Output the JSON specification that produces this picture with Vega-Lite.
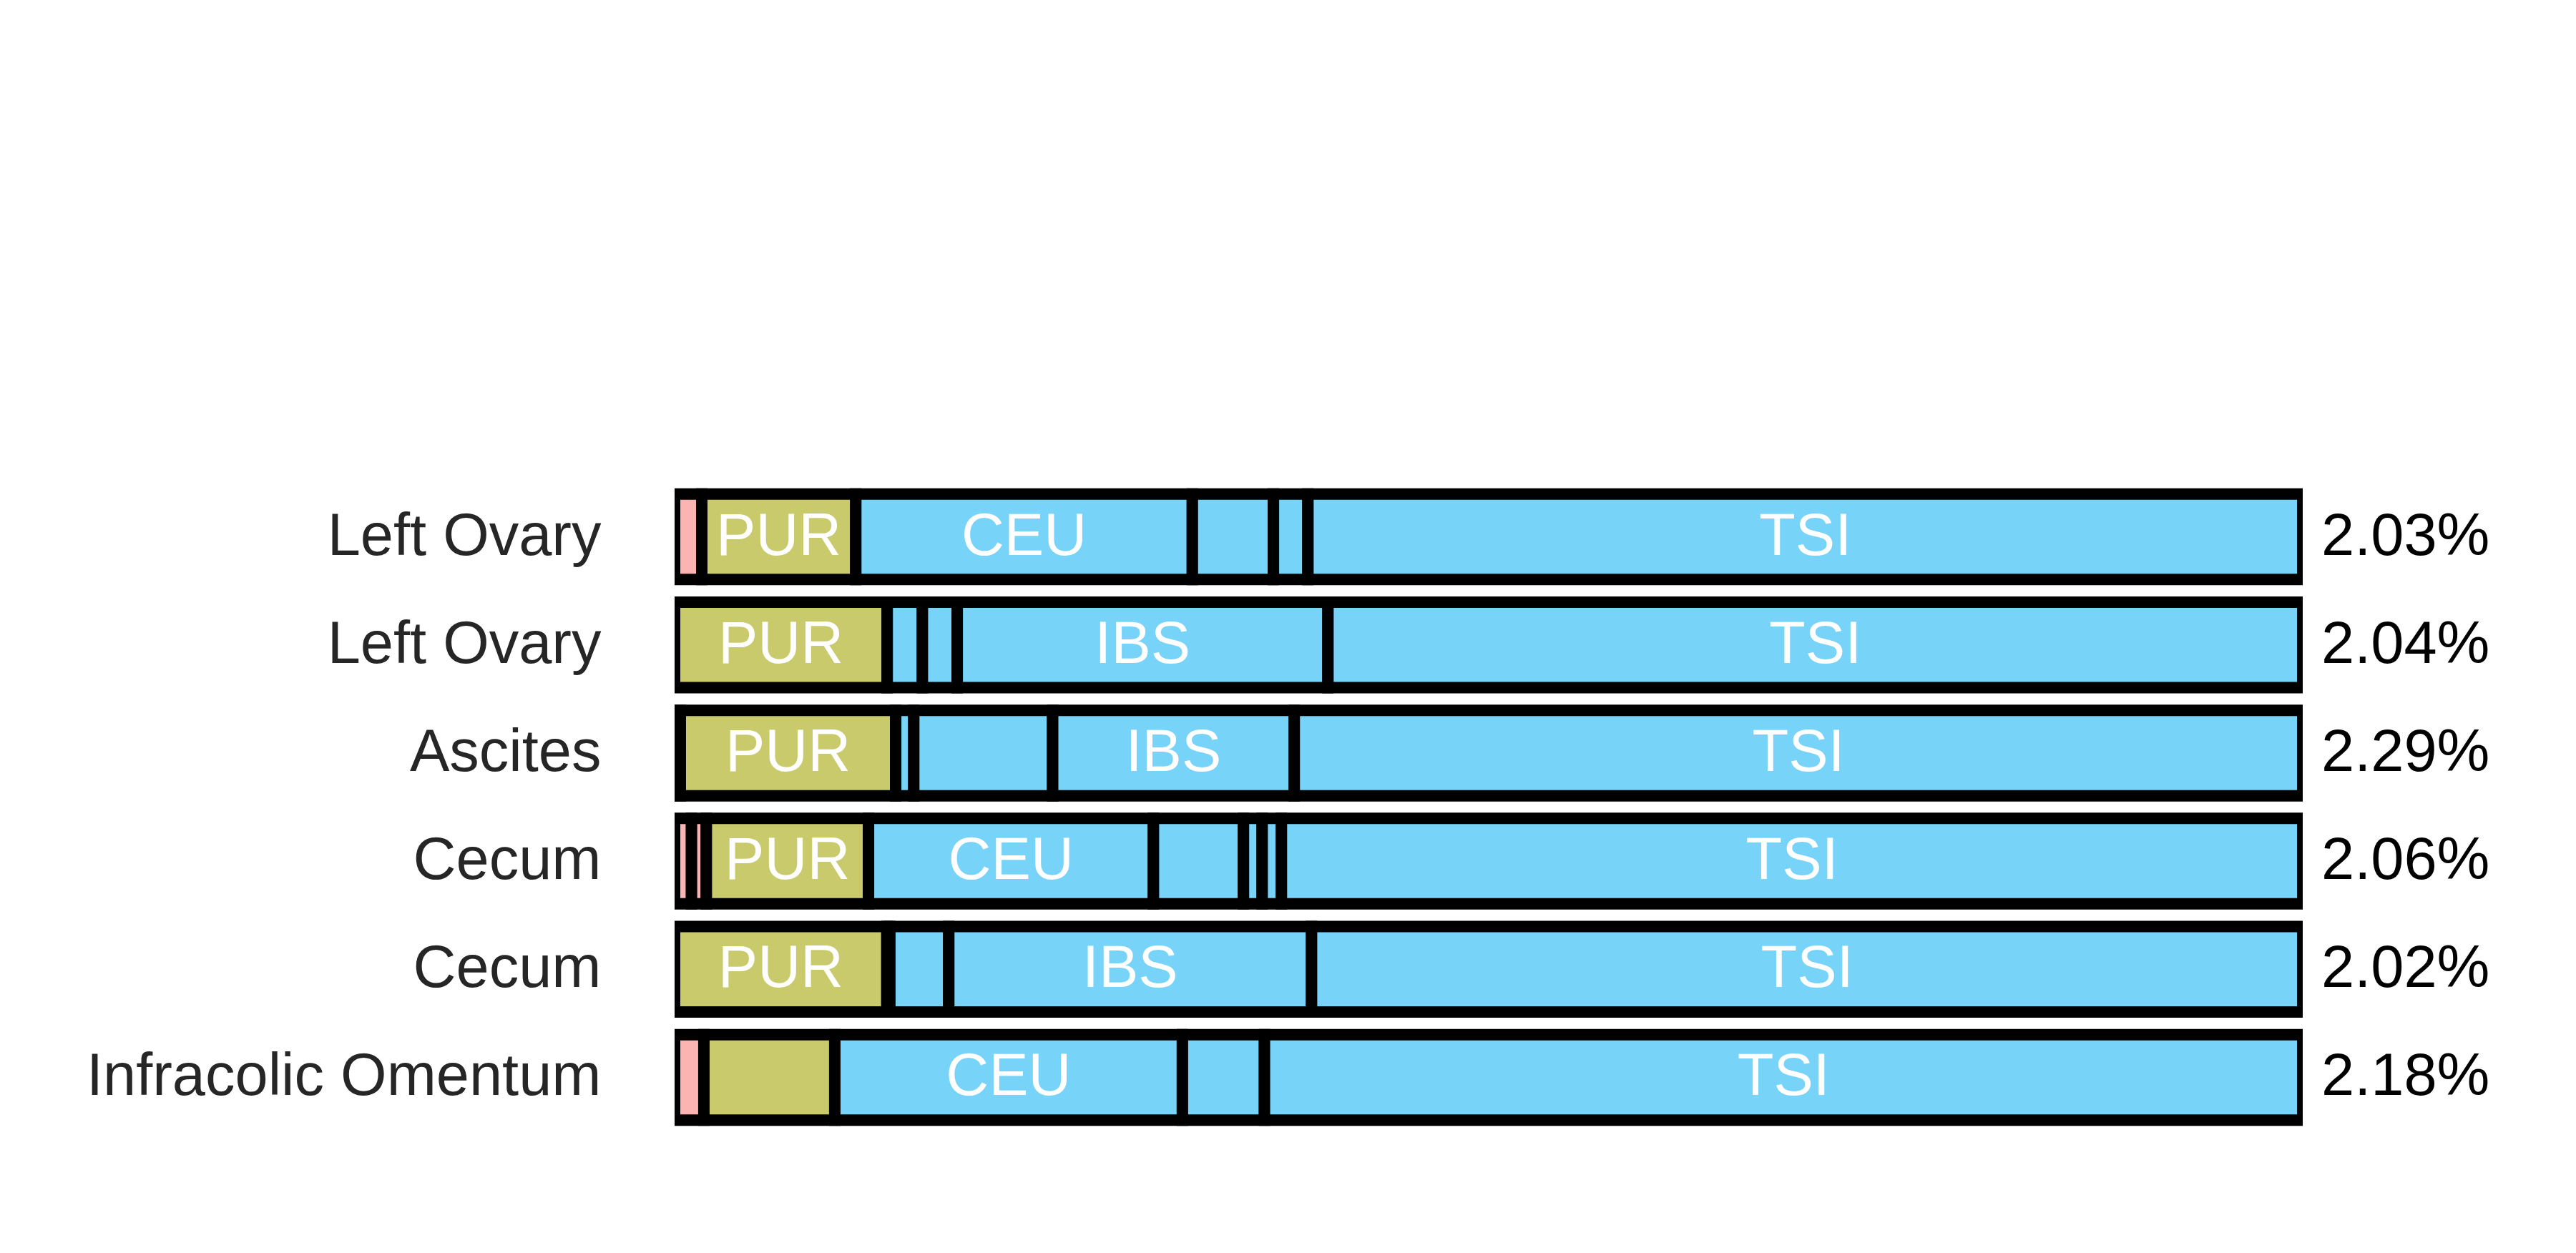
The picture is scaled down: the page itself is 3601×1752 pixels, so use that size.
{
  "$schema": "https://vega.github.io/schema/vega-lite/v6.json",
  "width": 2276,
  "height": 907,
  "autosize": "none",
  "padding": {"left": 943, "top": 675, "right": 382, "bottom": 170},
  "background": "white",
  "config": {"view": {"stroke": null}, "font": "Liberation Sans"},
  "datasets": {
    "segments": [
      {"sample": "Left Ovary|1", "seg": 1, "pop": "MXL", "group": "MXL", "value": 1.67, "label": ""},
      {"sample": "Left Ovary|1", "seg": 2, "pop": "PUR", "group": "PUR", "value": 9.46, "label": "PUR"},
      {"sample": "Left Ovary|1", "seg": 3, "pop": "CEU", "group": "EUR", "value": 20.67, "label": "CEU"},
      {"sample": "Left Ovary|1", "seg": 4, "pop": "GBR", "group": "EUR", "value": 4.98, "label": ""},
      {"sample": "Left Ovary|1", "seg": 5, "pop": "FIN", "group": "EUR", "value": 2.12, "label": ""},
      {"sample": "Left Ovary|1", "seg": 6, "pop": "TSI", "group": "EUR", "value": 61.10, "label": "TSI"},

      {"sample": "Left Ovary|2", "seg": 1, "pop": "PUR", "group": "PUR", "value": 13.06, "label": "PUR"},
      {"sample": "Left Ovary|2", "seg": 2, "pop": "GBR", "group": "EUR", "value": 2.16, "label": ""},
      {"sample": "Left Ovary|2", "seg": 3, "pop": "CEU", "group": "EUR", "value": 2.14, "label": ""},
      {"sample": "Left Ovary|2", "seg": 4, "pop": "IBS", "group": "EUR", "value": 22.77, "label": "IBS"},
      {"sample": "Left Ovary|2", "seg": 5, "pop": "TSI", "group": "EUR", "value": 59.87, "label": "TSI"},

      {"sample": "Ascites|3", "seg": 1, "pop": "MXL", "group": "MXL", "value": 0.35, "label": ""},
      {"sample": "Ascites|3", "seg": 2, "pop": "PUR", "group": "PUR", "value": 13.23, "label": "PUR"},
      {"sample": "Ascites|3", "seg": 3, "pop": "FIN", "group": "EUR", "value": 1.11, "label": ""},
      {"sample": "Ascites|3", "seg": 4, "pop": "GBR", "group": "EUR", "value": 8.53, "label": ""},
      {"sample": "Ascites|3", "seg": 5, "pop": "IBS", "group": "EUR", "value": 14.84, "label": "IBS"},
      {"sample": "Ascites|3", "seg": 6, "pop": "TSI", "group": "EUR", "value": 61.94, "label": "TSI"},

      {"sample": "Cecum|4", "seg": 1, "pop": "MXL", "group": "MXL", "value": 1.04, "label": ""},
      {"sample": "Cecum|4", "seg": 2, "pop": "CLM", "group": "MXL", "value": 0.91, "label": ""},
      {"sample": "Cecum|4", "seg": 3, "pop": "PUR", "group": "PUR", "value": 9.96, "label": "PUR"},
      {"sample": "Cecum|4", "seg": 4, "pop": "CEU", "group": "EUR", "value": 17.50, "label": "CEU"},
      {"sample": "Cecum|4", "seg": 5, "pop": "GBR", "group": "EUR", "value": 5.53, "label": ""},
      {"sample": "Cecum|4", "seg": 6, "pop": "FIN", "group": "EUR", "value": 1.15, "label": ""},
      {"sample": "Cecum|4", "seg": 7, "pop": "IBS", "group": "EUR", "value": 1.18, "label": ""},
      {"sample": "Cecum|4", "seg": 8, "pop": "TSI", "group": "EUR", "value": 62.73, "label": "TSI"},

      {"sample": "Cecum|5", "seg": 1, "pop": "PUR", "group": "PUR", "value": 13.04, "label": "PUR"},
      {"sample": "Cecum|5", "seg": 2, "pop": "FIN", "group": "EUR", "value": 0.18, "label": ""},
      {"sample": "Cecum|5", "seg": 3, "pop": "GBR", "group": "EUR", "value": 3.62, "label": ""},
      {"sample": "Cecum|5", "seg": 4, "pop": "IBS", "group": "EUR", "value": 22.28, "label": "IBS"},
      {"sample": "Cecum|5", "seg": 5, "pop": "TSI", "group": "EUR", "value": 60.88, "label": "TSI"},

      {"sample": "Infracolic Omentum|6", "seg": 1, "pop": "MXL", "group": "MXL", "value": 1.80, "label": ""},
      {"sample": "Infracolic Omentum|6", "seg": 2, "pop": "PUR", "group": "PUR", "value": 8.04, "label": ""},
      {"sample": "Infracolic Omentum|6", "seg": 3, "pop": "CEU", "group": "EUR", "value": 21.35, "label": "CEU"},
      {"sample": "Infracolic Omentum|6", "seg": 4, "pop": "GBR", "group": "EUR", "value": 5.04, "label": ""},
      {"sample": "Infracolic Omentum|6", "seg": 5, "pop": "TSI", "group": "EUR", "value": 63.77, "label": "TSI"}
    ],
    "totals": [
      {"sample": "Left Ovary|1", "pct": "2.03%"},
      {"sample": "Left Ovary|2", "pct": "2.04%"},
      {"sample": "Ascites|3", "pct": "2.29%"},
      {"sample": "Cecum|4", "pct": "2.06%"},
      {"sample": "Cecum|5", "pct": "2.02%"},
      {"sample": "Infracolic Omentum|6", "pct": "2.18%"}
    ]
  },
  "encoding": {
    "y": {
      "field": "sample",
      "type": "nominal",
      "sort": null,
      "scale": {
        "domain": ["Left Ovary|1", "Left Ovary|2", "Ascites|3", "Cecum|4", "Cecum|5", "Infracolic Omentum|6"],
        "paddingInner": 0.21,
        "paddingOuter": 0.105
      },
      "axis": {
        "title": null,
        "domain": false,
        "ticks": false,
        "labelFontSize": 83,
        "labelColor": "#262626",
        "labelFont": "Liberation Sans",
        "labelPadding": 103,
        "labelLimit": 2000,
        "labelExpr": "split(datum.label, '|')[0]"
      }
    }
  },
  "layer": [
    {
      "data": {"name": "segments"},
      "transform": [
        {"stack": "value", "groupby": ["sample"], "sort": [{"field": "seg", "order": "ascending"}], "as": ["x0", "x1"]}
      ],
      "mark": {"type": "bar", "stroke": "black", "strokeWidth": 16, "clip": true, "strokeJoin": "miter", "opacity": 1, "fillOpacity": 1},
      "encoding": {
        "x": {"field": "x0", "type": "quantitative", "scale": {"domain": [0, 100], "nice": false, "zero": false}, "axis": null},
        "x2": {"field": "x1"},
        "color": {
          "field": "group",
          "type": "nominal",
          "scale": {"domain": ["MXL", "PUR", "EUR"], "range": ["#FBB4B2", "#C8CA6B", "#77D3F7"]},
          "legend": null
        }
      }
    },
    {
      "data": {"name": "segments"},
      "transform": [
        {"stack": "value", "groupby": ["sample"], "sort": [{"field": "seg", "order": "ascending"}], "as": ["x0", "x1"]},
        {"filter": "datum.label != ''"},
        {"calculate": "(datum.x0 + datum.x1) / 2", "as": "xmid"}
      ],
      "mark": {"type": "text", "color": "white", "fontSize": 83, "font": "Liberation Sans", "baseline": "middle", "align": "center"},
      "encoding": {
        "x": {"field": "xmid", "type": "quantitative"},
        "text": {"field": "label"}
      }
    },
    {
      "data": {"name": "totals"},
      "mark": {"type": "text", "color": "black", "fontSize": 83, "font": "Liberation Sans", "baseline": "middle", "align": "left", "dx": 26},
      "encoding": {
        "x": {"datum": 100},
        "text": {"field": "pct"}
      }
    }
  ]
}
